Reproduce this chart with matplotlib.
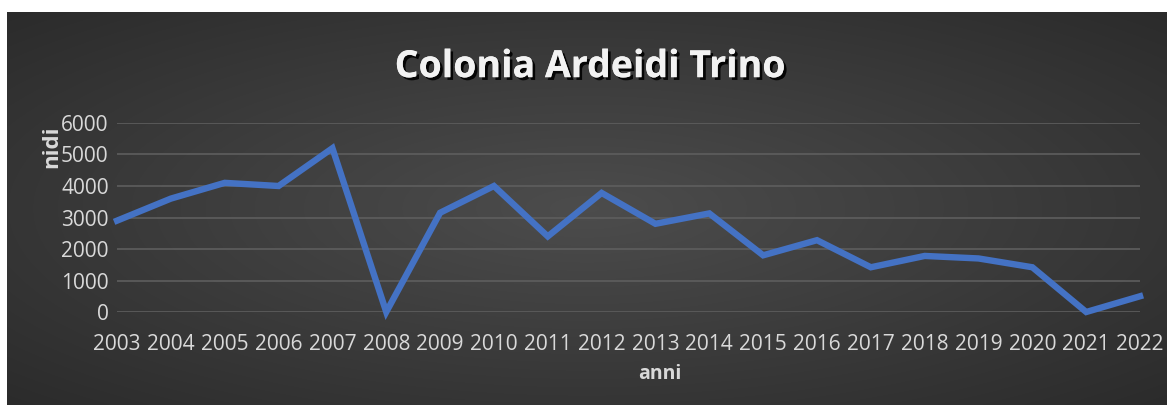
import numpy as np
import matplotlib.pyplot as plt
import matplotlib.patheffects as pe

anni = ["2003", "2004", "2005", "2006", "2007", "2008", "2009", "2010", "2011", "2012",
        "2013", "2014", "2015", "2016", "2017", "2018", "2019", "2020", "2021", "2022"]
nidi = [2900, 3600, 4100, 4000, 5200, 0, 3150, 4000, 2400, 3780,
        2800, 3130, 1800, 2280, 1420, 1780, 1700, 1420, 0, 500]
yticks = [0, 1000, 2000, 3000, 4000, 5000, 6000]

plt.rcParams['font.family'] = ['Open Sans', 'DejaVu Sans']
txt = '#d9d9d9'

fig = plt.figure(figsize=(11.67, 4.07), dpi=100)
fig.patch.set_facecolor('white')

# pannello scuro con sfumatura radiale
bg = fig.add_axes([0.006, 0.005, 0.994, 0.9655])
xx, yy = np.meshgrid(np.linspace(-1, 1, 400), np.linspace(-1, 1, 200))
r = np.clip(np.sqrt(xx**2 + yy**2) / 1.41, 0, 1)
c = 0.30 - 0.13 * r
img = np.dstack([c, c, c])
bg.imshow(img, aspect='auto', extent=[0, 1, 0, 1], interpolation='bilinear')
bg.set_axis_off()

ax = fig.add_axes([0.1003, 0.2334, 0.8766, 0.4644])
ax.set_facecolor('none')
x = np.arange(len(anni))
ax.plot(x, nidi, color='#4472C4', linewidth=4.6, solid_joinstyle='miter', clip_on=False, zorder=3)
ax.set_xlim(0, len(anni) - 1)
ax.set_ylim(0, 6000)
ax.set_yticks(yticks)
ax.set_xticks(x)
ax.set_xticklabels(anni)
ax.grid(axis='y', color='#5e5e5e', linewidth=1.2)
ax.set_axisbelow(True)
for s in ax.spines.values():
    s.set_visible(False)
ax.tick_params(axis='both', length=0, colors=txt, labelsize=15)
ax.tick_params(axis='y', pad=6)
ax.tick_params(axis='x', pad=16)

fig.text(0.5055, 0.835, 'Colonia Ardeidi Trino', ha='center', va='center', fontsize=27,
         fontweight='bold', color='#f2f2f2',
         path_effects=[pe.withSimplePatchShadow(offset=(2, -2), shadow_rgbFace='black', alpha=0.9), pe.Normal()])
fig.text(0.0446, 0.639, 'nidi', rotation=90, ha='center', va='center', fontsize=16,
         fontweight='bold', color=txt)
fig.text(0.565, 0.081, 'anni', ha='center', va='center', fontsize=14,
         fontweight='bold', color=txt)

fig.savefig('out.png', dpi=100, facecolor='white')
